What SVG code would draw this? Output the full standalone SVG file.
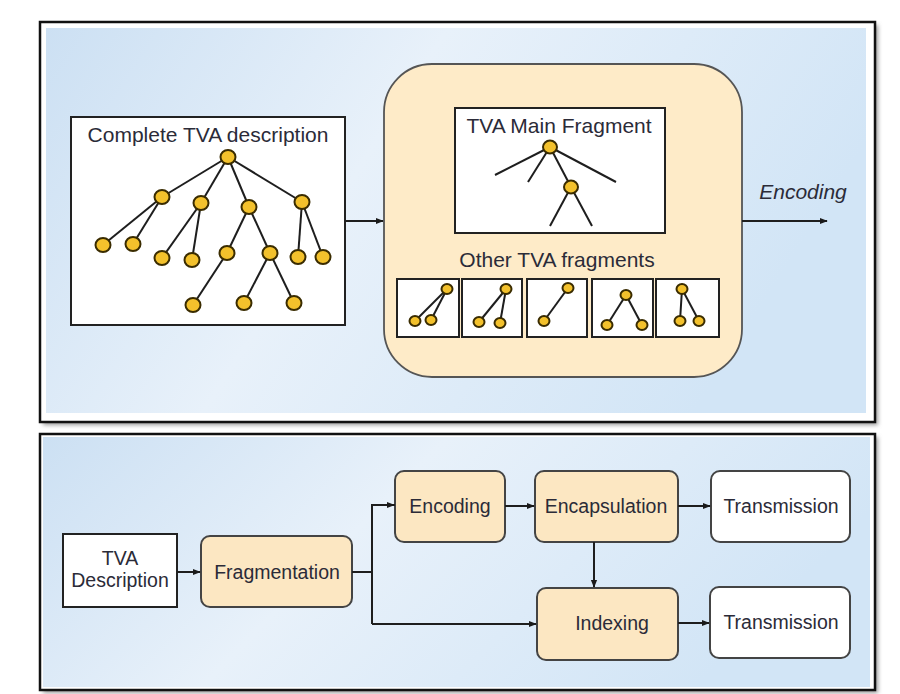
<svg xmlns="http://www.w3.org/2000/svg" width="900" height="694" viewBox="0 0 900 694">
<defs>
<linearGradient id="bg" x1="0" y1="0" x2="1" y2="0.3">
<stop offset="0" stop-color="#CCE0F3"/>
<stop offset="0.45" stop-color="#E8F1FA"/>
<stop offset="1" stop-color="#D2E5F6"/>
</linearGradient>
<filter id="sh" x="-5%" y="-5%" width="110%" height="110%">
<feGaussianBlur stdDeviation="2"/>
</filter>
<marker id="ah" viewBox="0 0 10 10" refX="9" refY="5" markerWidth="8" markerHeight="8" markerUnits="userSpaceOnUse" orient="auto">
<path d="M0,1 L10,5 L0,9 Z" fill="#1a1a1a"/>
</marker>
<style>
.frame{fill:#fff;stroke:#111;stroke-width:2.5}
.shadow{fill:#999;filter:url(#sh)}
.box{fill:#fff;stroke:#222;stroke-width:2}
.ybox{fill:#FCE7C2;stroke:#444;stroke-width:2}
.wbox{fill:#fff;stroke:#444;stroke-width:2}
.panel{fill:#FEEBC8;stroke:#555;stroke-width:1.8}
.edge{stroke:#1e1e1e;stroke-width:2;fill:none}
.nd{fill:#F3C12C;stroke:#3a2c00;stroke-width:2}
.conn{stroke:#1e1e1e;stroke-width:2;fill:none}
.t{font-family:"Liberation Sans",Arial,sans-serif;fill:#2b2b38;text-anchor:middle}
.t21{font-size:21px}
.t19{font-size:19.5px}
</style>
</defs>

<g id="top-panel">
<rect class="shadow" x="43" y="25" width="835" height="400"/>
<rect class="frame" x="40" y="22" width="835" height="400"/>
<rect x="46" y="28" width="820" height="385" fill="url(#bg)"/>
</g>

<g id="bottom-panel">
<rect class="shadow" x="43" y="437" width="835" height="256"/>
<rect class="frame" x="40" y="434" width="835" height="256"/>
<rect x="43" y="437" width="827" height="250" fill="url(#bg)"/>
</g>

<g id="complete-tva">
<rect class="box" x="71" y="117" width="274" height="208"/>
<text class="t t21" x="208" y="142">Complete TVA description</text>
<g class="edge">
<line x1="228" y1="157" x2="162" y2="197"/>
<line x1="228" y1="157" x2="201" y2="203"/>
<line x1="228" y1="157" x2="249" y2="207"/>
<line x1="228" y1="157" x2="302" y2="202"/>
<line x1="162" y1="197" x2="103" y2="245"/>
<line x1="162" y1="197" x2="133" y2="244"/>
<line x1="201" y1="203" x2="162" y2="258"/>
<line x1="201" y1="203" x2="192" y2="260"/>
<line x1="249" y1="207" x2="227" y2="253"/>
<line x1="249" y1="207" x2="270" y2="253"/>
<line x1="302" y1="202" x2="298" y2="257"/>
<line x1="302" y1="202" x2="323" y2="257"/>
<line x1="227" y1="253" x2="193" y2="305"/>
<line x1="270" y1="253" x2="244" y2="303"/>
<line x1="270" y1="253" x2="294" y2="303"/>
</g>
<g class="nd">
<ellipse cx="228" cy="157" rx="7.5" ry="7"/>
<ellipse cx="162" cy="197" rx="7.5" ry="7"/>
<ellipse cx="201" cy="203" rx="7.5" ry="7"/>
<ellipse cx="249" cy="207" rx="7.5" ry="7"/>
<ellipse cx="302" cy="202" rx="7.5" ry="7"/>
<ellipse cx="103" cy="245" rx="7.5" ry="7"/>
<ellipse cx="133" cy="244" rx="7.5" ry="7"/>
<ellipse cx="162" cy="258" rx="7.5" ry="7"/>
<ellipse cx="192" cy="260" rx="7.5" ry="7"/>
<ellipse cx="227" cy="253" rx="7.5" ry="7"/>
<ellipse cx="270" cy="253" rx="7.5" ry="7"/>
<ellipse cx="298" cy="257" rx="7.5" ry="7"/>
<ellipse cx="323" cy="257" rx="7.5" ry="7"/>
<ellipse cx="193" cy="305" rx="7.5" ry="7"/>
<ellipse cx="244" cy="303" rx="7.5" ry="7"/>
<ellipse cx="294" cy="303" rx="7.5" ry="7"/>
</g>
</g>

<g id="fragments-panel">
<rect class="panel" x="384" y="64" width="358" height="313" rx="48" ry="48"/>
</g>

<g id="main-fragment">
<rect class="box" x="455" y="108" width="210" height="125"/>
<text class="t t21" x="559" y="133">TVA Main Fragment</text>
<g class="edge">
<line x1="550" y1="147" x2="495" y2="175"/>
<line x1="550" y1="147" x2="528" y2="182"/>
<line x1="550" y1="147" x2="616" y2="182"/>
<line x1="550" y1="147" x2="571" y2="187"/>
<line x1="571" y1="187" x2="550" y2="226"/>
<line x1="571" y1="187" x2="592" y2="226"/>
</g>
<g class="nd">
<ellipse cx="550" cy="147" rx="7" ry="6.5"/>
<ellipse cx="571" cy="187" rx="7" ry="6.5"/>
</g>
</g>

<g id="other-fragments">
<text class="t t21" x="557" y="267">Other TVA fragments</text>
<g id="frag1">
<rect class="box" x="397" y="279" width="62" height="58"/>
<g class="edge"><line x1="447" y1="289" x2="415" y2="321"/><line x1="447" y1="289" x2="431" y2="320"/></g>
<g class="nd"><ellipse cx="447" cy="289" rx="5.5" ry="5"/><ellipse cx="415" cy="321" rx="5.5" ry="5"/><ellipse cx="431" cy="320" rx="5.5" ry="5"/></g>
</g>
<g id="frag2">
<rect class="box" x="462" y="279" width="60" height="58"/>
<g class="edge"><line x1="506" y1="289" x2="479" y2="322"/><line x1="506" y1="289" x2="500" y2="323"/></g>
<g class="nd"><ellipse cx="506" cy="289" rx="5.5" ry="5"/><ellipse cx="479" cy="322" rx="5.5" ry="5"/><ellipse cx="500" cy="323" rx="5.5" ry="5"/></g>
</g>
<g id="frag3">
<rect class="box" x="527" y="279" width="60" height="58"/>
<g class="edge"><line x1="568" y1="288" x2="544" y2="321"/></g>
<g class="nd"><ellipse cx="568" cy="288" rx="5.5" ry="5"/><ellipse cx="544" cy="321" rx="5.5" ry="5"/></g>
</g>
<g id="frag4">
<rect class="box" x="592" y="279" width="61" height="58"/>
<g class="edge"><line x1="626" y1="295" x2="607" y2="325"/><line x1="626" y1="295" x2="642" y2="325"/></g>
<g class="nd"><ellipse cx="626" cy="295" rx="5.5" ry="5"/><ellipse cx="607" cy="325" rx="5.5" ry="5"/><ellipse cx="642" cy="325" rx="5.5" ry="5"/></g>
</g>
<g id="frag5">
<rect class="box" x="656" y="279" width="63" height="58"/>
<g class="edge"><line x1="682" y1="289" x2="680" y2="321"/><line x1="682" y1="289" x2="699" y2="321"/></g>
<g class="nd"><ellipse cx="682" cy="289" rx="5.5" ry="5"/><ellipse cx="680" cy="321" rx="5.5" ry="5"/><ellipse cx="699" cy="321" rx="5.5" ry="5"/></g>
</g>
</g>

<g id="encoding-label">
<text class="t t21" x="803" y="199" font-style="italic">Encoding</text>
</g>

<g id="tva-description">
<rect class="box" x="63" y="534" width="114" height="73"/>
<text class="t t19" x="120" y="565">TVA</text>
<text class="t t19" x="120" y="587">Description</text>
</g>
<g id="fragmentation">
<rect class="ybox" x="201" y="536" width="151" height="71" rx="9"/>
<text class="t t19" x="277" y="579">Fragmentation</text>
</g>
<g id="encoding">
<rect class="ybox" x="395" y="471" width="110" height="71" rx="9"/>
<text class="t t19" x="450" y="513">Encoding</text>
</g>
<g id="encapsulation">
<rect class="ybox" x="535" y="471" width="143" height="71" rx="9"/>
<text class="t t19" x="606" y="513">Encapsulation</text>
</g>
<g id="transmission-1">
<rect class="wbox" x="711" y="471" width="139" height="71" rx="9"/>
<text class="t t19" x="781" y="513">Transmission</text>
</g>
<g id="indexing">
<rect class="ybox" x="537" y="588" width="141" height="72" rx="9"/>
<text class="t t19" x="612" y="630">Indexing</text>
</g>
<g id="transmission-2">
<rect class="wbox" x="710" y="587" width="140" height="71" rx="9"/>
<text class="t t19" x="781" y="629">Transmission</text>
</g>

<g id="connectors" class="conn">
<line x1="345" y1="221" x2="383" y2="221" marker-end="url(#ah)"/>
<line x1="742" y1="221" x2="827" y2="221" marker-end="url(#ah)"/>
<line x1="177" y1="572" x2="200" y2="572" marker-end="url(#ah)"/>
<polyline points="352,572 372,572"/>
<polyline points="395,505 372,505 372,624" marker-end="none"/>
<line x1="372" y1="505" x2="394" y2="505" marker-end="url(#ah)"/>
<line x1="372" y1="624" x2="536" y2="624" marker-end="url(#ah)"/>
<line x1="505" y1="506" x2="534" y2="506" marker-end="url(#ah)"/>
<line x1="678" y1="506" x2="710" y2="506" marker-end="url(#ah)"/>
<line x1="594" y1="542" x2="594" y2="587" marker-end="url(#ah)"/>
<line x1="678" y1="623" x2="709" y2="623" marker-end="url(#ah)"/>
</g>
</svg>
